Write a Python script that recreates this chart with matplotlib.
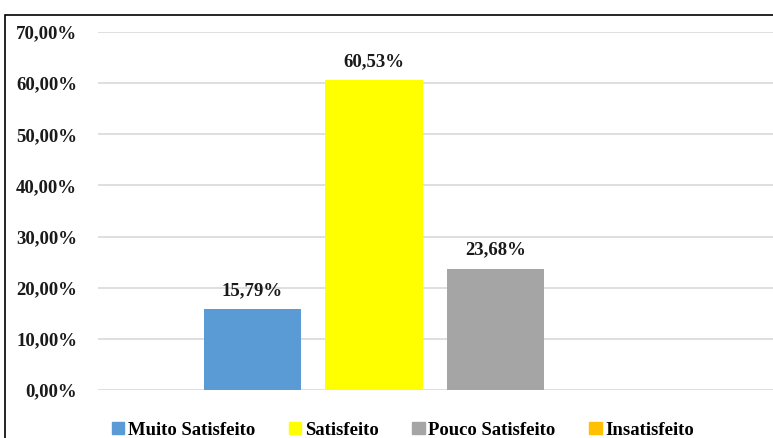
import matplotlib.pyplot as plt
from matplotlib.patches import Rectangle
from matplotlib.ticker import FuncFormatter

categorias = ['Muito Satisfeito', 'Satisfeito', 'Pouco Satisfeito', 'Insatisfeito']
valores = [15.79, 60.53, 23.68, 0.0]
cores = ['#5b9bd5', '#ffff00', '#a5a5a5', '#ffc000']
rotulos = ['15,79%', '60,53%', '23,68%', '']

plt.rcParams['font.family'] = ['Liberation Serif', 'DejaVu Serif']
plt.rcParams['font.weight'] = 'bold'
fs = 13.5

fig = plt.figure(figsize=(7.73, 4.38), dpi=100)
ax = fig.add_axes([98 / 773, 48 / 438, 675 / 773, 358 / 438])

pos = range(len(categorias))
barras = ax.bar(pos, valores, width=0.8, color=cores, zorder=3)
for b, lab in zip(barras, rotulos):
    if lab:
        ax.text(b.get_x() + b.get_width() / 2, b.get_height() + 2.0, lab,
                ha='center', va='bottom', fontsize=fs, fontweight='bold', color='#1a1a1a')

ax.set_ylim(0, 70)
ax.set_xlim(-1.272, 4.284)
ax.set_yticks(range(0, 71, 10))
ax.yaxis.set_major_formatter(FuncFormatter(lambda v, p: f'{v:.2f}%'.replace('.', ',')))
ax.tick_params(axis='y', length=0, pad=15, labelsize=fs, labelcolor='#1a1a1a')
ax.set_xticks([])
ax.grid(axis='y', color='#d9d9d9', linewidth=1.2, zorder=0)
for s in ax.spines.values():
    s.set_visible(False)
for t in ax.get_yticklabels():
    t.set_fontweight('bold')

handles = [Rectangle((0, 0), 1, 1, color=c) for c in cores]
fig.legend(handles, categorias, loc='lower center', bbox_to_anchor=(403 / 773, -0.04),
           ncol=4, frameon=False, handlelength=0.65, handleheight=0.65,
           handletextpad=0.2, columnspacing=1.8,
           prop={'family': 'Liberation Serif', 'weight': 'bold', 'size': fs})

# moldura da figura
fig.add_artist(Rectangle((5 / 773, -0.01), 1.0, 427 / 438, transform=fig.transFigure,
                         fill=False, edgecolor='black', linewidth=1.2))

fig.savefig('out.png', dpi=100)
